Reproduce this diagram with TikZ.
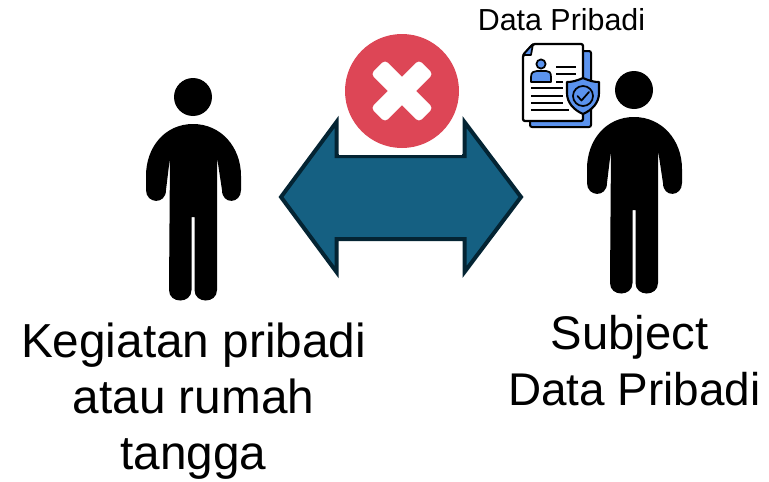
\documentclass[tikz,border=0pt]{standalone}
\usepackage{fontspec}
\setmainfont{Liberation Sans}
\definecolor{arrowfill}{HTML}{156082}
\definecolor{arrowline}{HTML}{042433}
\definecolor{crossred}{HTML}{DD4656}
\definecolor{iconblue}{HTML}{5B93EE}
\tikzset{
  px/.style={x=0.75pt,y=-0.75pt},
  personpic/.pic={
    \fill[black] (193,97) circle[radius=19];
    \fill[black] (193,124)
      .. controls (165,124) and (146,147) .. (146,176)
      -- (146,190)
      .. controls (146,204) and (166,205) .. (166,190)
      -- (170,157) -- (169,290)
      .. controls (169,304) and (191.5,304) .. (191.5,290)
      -- (191.5,217) -- (194.5,217) -- (194.5,290)
      .. controls (194.5,304) and (217,304) .. (217,290)
      -- (217,157) -- (222,190)
      .. controls (222,205) and (241,204) .. (241,190)
      -- (241,176)
      .. controls (241,147) and (221,124) .. (193,124) -- cycle;
  },
  bigtext/.style={align=center,text=black,inner sep=0pt},
  sheet/.style={draw=black,line width=1.7pt,line join=round,rounded corners=1.5pt},
  iconline/.style={draw=black,line width=1.5pt},
  crossarm/.style={fill=white,rounded corners=3pt},
}
\begin{document}
\begin{tikzpicture}[px]
\useasboundingbox (0,0) rectangle (769,482);
% persons
\pic at (0,0) {personpic};
\pic at (441,-7) {personpic};
% double arrow
\draw[fill=arrowfill,draw=arrowline,line width=3pt,miter limit=10]
  (281,197) -- (336.5,122) -- (336.5,156) -- (464.5,156) -- (464.5,122)
  -- (521,197) -- (464.5,272) -- (464.5,239) -- (336.5,239) -- (336.5,272) -- cycle;
\fill[white] (339,105) rectangle (462,154.5);
% forbidden badge
\fill[crossred] (402,91) circle[radius=57];
\begin{scope}[shift={(402,91)},rotate=45]
  \fill[crossarm] (-34,-10) rectangle (34,10);
  \fill[crossarm] (-10,-34) rectangle (10,34);
\end{scope}
% document icon
\fill[iconblue,draw=black,line width=1.5pt,rounded corners=1.5pt] (530,51) rectangle (591,127);
\path[sheet,fill=white] (533,44) -- (583,44) -- (583,121) -- (523,121) -- (523,55) -- cycle;
\path[fill=iconblue,draw=black,line width=1.3pt,line join=round] (533,44) -- (523,55) -- (531,55) -- cycle;
\draw[fill=iconblue,draw=black,line width=1.3pt] (541,64) circle[radius=4.6];
\draw[fill=iconblue,draw=black,line width=1.3pt,line join=round]
  (531,82) -- (531,77) .. controls (531,72) and (534,71) .. (537,71) -- (546,71)
  .. controls (549,71) and (551,72) .. (551,77) -- (551,82) -- cycle;
\draw[iconline] (556,67) -- (576,67);
\draw[iconline] (556,74) -- (576,74);
\draw[iconline] (556,82) -- (563,82);
\draw[iconline] (531,88) -- (563,88);
\draw[iconline] (531,96) -- (563,96);
\draw[iconline] (531,103) -- (563,103);
\draw[iconline] (531,110) -- (569,110);
\draw[fill=iconblue,draw=black,line width=1.6pt,line join=round]
  (583,78) .. controls (590,81) and (594,82) .. (599,82)
  -- (599,93) .. controls (599,103) and (592,110) .. (583,114)
  .. controls (574,110) and (567,103) .. (567,93) -- (567,82)
  .. controls (572,82) and (576,81) .. (583,78) -- cycle;
\draw[line width=1.3pt] (583,96) circle[radius=10];
\draw[line width=1.3pt,line cap=round,line join=round] (577.5,96) -- (581.5,100.5) -- (589,92);
% texts
\node[bigtext,font=\fontsize{22.8pt}{27pt}\selectfont,anchor=base] (doclabel) at (561.5,30) {Data Pribadi};
\node[bigtext,font=\fontsize{35.8pt}{42pt}\selectfont,anchor=base] (leftline) at (193.5,357) {Kegiatan pribadi};
\node[bigtext,font=\fontsize{35.8pt}{42pt}\selectfont,anchor=base] (leftlinetwo) at (193.5,413) {atau rumah};
\node[bigtext,font=\fontsize{35.8pt}{42pt}\selectfont,anchor=base] (leftlinethree) at (193.5,469) {tangga};
\node[bigtext,font=\fontsize{35.4pt}{40pt}\selectfont,anchor=base] (rightline) at (629.5,349) {Subject};
\node[bigtext,font=\fontsize{34.4pt}{40pt}\selectfont,anchor=base] (rightlinetwo) at (634.5,405) {Data Pribadi};
\end{tikzpicture}
\end{document}
